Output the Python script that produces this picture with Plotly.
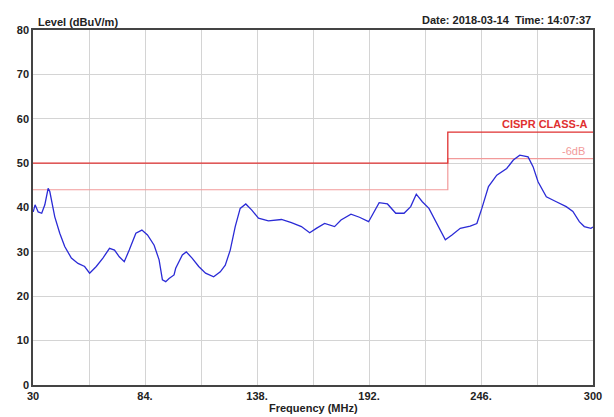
import plotly.graph_objects as go

# Measured emission level (dBuV/m) versus frequency (MHz)
freq_mhz = [30.1, 31.0, 32.5, 34.2, 35.7, 36.6, 37.3, 38.1, 39.0, 40.5, 42.9, 45.3,
            48.5, 51.7, 54.9, 57.3, 60.5, 63.7, 66.9, 69.3, 71.6, 74.0, 76.4, 79.6,
            82.5, 85.2, 88.4, 90.8, 92.4, 94.0, 95.6, 98.0, 98.8, 102.0, 103.9,
            106.7, 109.9, 113.2, 117.1, 120.3, 122.7, 125.1, 127.5, 129.9, 132.6,
            135.5, 138.7, 143.5, 149.8, 154.6, 159.4, 163.4, 166.6, 170.6, 175.4,
            178.5, 183.3, 187.4, 191.8, 194.5, 196.9, 200.9, 204.9, 208.9, 212.1,
            214.8, 217.7, 220.9, 224.8, 228.8, 232.0, 236.0, 240.8, 244.0, 246.4,
            249.6, 253.6, 258.4, 261.6, 264.7, 268.7, 271.1, 273.5, 277.5, 282.3,
            287.1, 290.3, 293.4, 295.8, 299.0, 300.0]
level_dbuv = [39.0, 40.6, 39.0, 38.7, 40.6, 42.8, 44.3, 43.6, 41.3, 37.9, 34.2, 31.2,
              28.6, 27.4, 26.7, 25.2, 26.7, 28.6, 30.8, 30.4, 28.9, 27.8, 30.4, 34.2,
              34.9, 33.8, 31.5, 28.2, 23.7, 23.3, 24.0, 24.8, 26.3, 29.3, 30.0,
              28.6, 26.7, 25.2, 24.4, 25.5, 27.0, 30.4, 35.7, 39.8, 40.8,
              39.4, 37.6, 37.0, 37.3, 36.6, 35.7, 34.3, 35.3, 36.4, 35.7,
              37.2, 38.5, 37.8, 36.8, 39.1, 41.1, 40.8, 38.7, 38.7, 40.2,
              43.0, 41.3, 39.8, 36.4, 32.7, 33.8, 35.3, 35.8, 36.4, 39.8,
              44.7, 47.3, 48.8, 50.7, 51.8, 51.4, 49.2, 45.8, 42.4, 41.3,
              40.2, 39.1, 36.8, 35.7, 35.3, 35.6]

# CISPR class A limit and the -6 dB margin line
limit_freq = [30, 230, 230, 300]
limit_class_a = [50, 50, 57, 57]
limit_margin = [44, 44, 51, 51]

x_grid = [30, 57, 84, 111, 138, 165, 192, 219, 246, 273, 300]
x_labels = ["30", "", "84.", "", "138.", "", "192.", "", "246.", "", "300"]
y_ticks = [0, 10, 20, 30, 40, 50, 60, 70, 80]

FONT = "Liberation Sans"

fig = go.Figure()
fig.add_trace(go.Scatter(x=limit_freq, y=limit_margin, mode="lines",
                         line=dict(color="#f29a9a", width=1.2), hoverinfo="skip"))
fig.add_trace(go.Scatter(x=limit_freq, y=limit_class_a, mode="lines",
                         line=dict(color="#e03030", width=1.3), hoverinfo="skip"))
fig.add_trace(go.Scatter(x=freq_mhz, y=level_dbuv, mode="lines",
                         line=dict(color="#2b2bd6", width=1.3)))

fig.update_layout(
    width=614, height=417,
    margin=dict(l=33, r=17, t=30, b=32),
    paper_bgcolor="white", plot_bgcolor="white",
    showlegend=False,
    font=dict(family=FONT, size=11, color="#222222"),
)
fig.update_xaxes(
    range=[30, 300], tickmode="array", tickvals=x_grid, ticktext=x_labels,
    showgrid=True, gridcolor="#d4d4d4", gridwidth=1,
    showline=True, linecolor="#444444", linewidth=1.5, mirror=True,
    ticks="", zeroline=False,
    tickfont=dict(family=FONT, size=11, color="#222222", weight="bold"),
)
fig.update_yaxes(
    range=[0, 80], tickmode="array", tickvals=y_ticks,
    showgrid=True, gridcolor="#d4d4d4", gridwidth=1,
    showline=True, linecolor="#444444", linewidth=1.5, mirror=True,
    ticks="", zeroline=False,
    tickfont=dict(family=FONT, size=11, color="#222222", weight="bold"),
)

fig.add_annotation(xref="paper", yref="paper", x=0.005, y=1.0, xanchor="left", yanchor="bottom",
                   text="<b>Level (dBuV/m)</b>", showarrow=False,
                   font=dict(family=FONT, size=11, color="#222222"))
fig.add_annotation(xref="paper", yref="paper", x=1.0, y=1.005, xanchor="right", yanchor="bottom",
                   text="<b>Date: 2018-03-14  Time: 14:07:37</b>", showarrow=False,
                   font=dict(family=FONT, size=11, color="#222222"))
fig.add_annotation(xref="paper", yref="paper", x=0.5, y=-0.042, xanchor="center", yanchor="top",
                   text="<b>Frequency (MHz)</b>", showarrow=False,
                   font=dict(family=FONT, size=11, color="#222222"))
fig.add_annotation(xref="paper", yref="y", x=0.995, y=57, xanchor="right", yanchor="bottom",
                   text="<b>CISPR CLASS-A</b>", showarrow=False,
                   font=dict(family=FONT, size=11, color="#e03030"))
fig.add_annotation(xref="paper", yref="y", x=0.99, y=51, xanchor="right", yanchor="bottom",
                   text="-6dB", showarrow=False,
                   font=dict(family=FONT, size=11, color="#f29a9a"))

fig.write_html("out.html")
